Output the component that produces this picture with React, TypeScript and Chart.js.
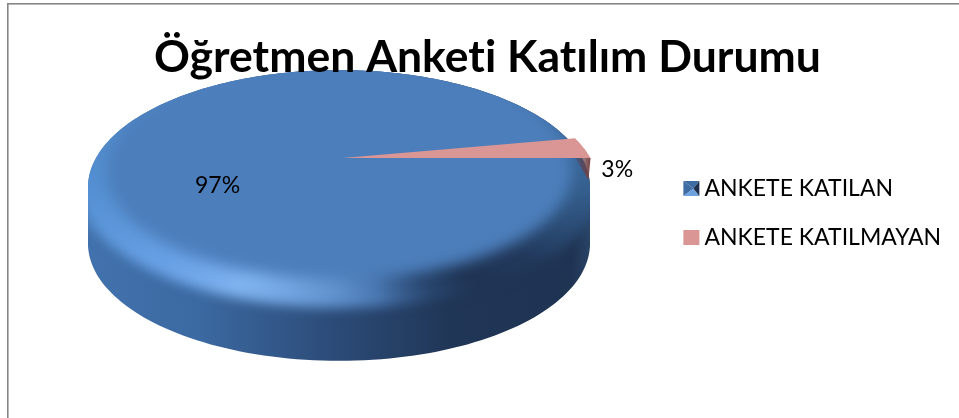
import React, { useEffect, useRef } from "react";
import { Chart, registerables } from "chart.js";

Chart.register(...registerables);

const categories = ["ANKETE KATILAN", "ANKETE KATILMAYAN"];
const shares = [97, 3];
const sliceColors = ["#4C7EBB", "#D99694"];
const chartTitle = "Öğretmen Anketi Katılım Durumu";

// Projection of the pie disc onto the page (tilted with perspective)
const VIEW = { cx: 339, cy: 158, a: 243, b: 110, p: 0.251, depth: 56, explode: 0.035, apexExplode: 0.015 };
// Label placement: radial fraction and extra offset
const LABEL_POS = [
  { frac: 0.5, dx: 1, dy: 22 },
  { frac: 1.13, dx: 12, dy: 23 },
];

type Pt = { x: number; y: number };

function proj(angle: number, frac = 1, shift = 0, du = 0, dy = 0): Pt {
  const u = Math.cos(angle) * frac + du;
  const v = Math.sin(angle) * frac;
  const d = 1 - VIEW.p * v;
  return { x: VIEW.cx + (VIEW.a * u) / d, y: VIEW.cy + (VIEW.b * v) / d + shift + dy };
}

function addRing(path: Path2D, frac: number, shift: number) {
  const n = 240;
  for (let i = 0; i <= n; i++) {
    const pt = proj((i / n) * Math.PI * 2, frac, shift);
    if (i === 0) path.moveTo(pt.x, pt.y);
    else path.lineTo(pt.x, pt.y);
  }
  path.closePath();
}

function drawPie(chart: any) {
  const ctx: CanvasRenderingContext2D = chart.ctx;
  (ctx as any).letterSpacing = "0.01px";
  const { width, height } = chart;
  ctx.save();
  ctx.fillStyle = "#fff";
  ctx.fillRect(0, 0, width, height);

  // frame
  ctx.fillStyle = "#868686";
  ctx.fillRect(7, 3, width - 7, 1.6);
  ctx.fillRect(7, 3, 1.6, height - 3);

  const meta = chart.getDatasetMeta(0);
  const pink = (meta.data as any[])[1];

  // silhouette
  const sil = new Path2D();
  for (let d = 0; d <= VIEW.depth; d += 2) addRing(sil, 1, d);

  const centerY = proj(Math.PI / 2).y / 2 + proj(-Math.PI / 2).y / 2;

  ctx.save();
  ctx.clip(sil);
  const wall = ctx.createLinearGradient(88, 0, 592, 0);
  wall.addColorStop(0, "#4272AD");
  wall.addColorStop(0.22, "#3B69A1");
  wall.addColorStop(0.5, "#2B4A76");
  wall.addColorStop(0.72, "#203656");
  wall.addColorStop(0.96, "#1F3453");
  wall.addColorStop(1, "#2A4568");
  ctx.fillStyle = wall;
  ctx.fillRect(0, 0, width, height);

  const rimGrad = (ctx as any).createConicGradient(0, VIEW.cx, centerY);
  const stops: [number, string][] = [
    [0, "#35608F"], [20, "#22395C"], [35, "#1F3454"], [50, "#2A4872"], [70, "#4A78B2"],
    [90, "#5F90CC"], [135, "#80B4F0"], [155, "#6AA2E6"], [180, "#5490D2"], [205, "#4F86C5"],
    [235, "#4C7EBB"], [330, "#4C7EBB"], [360, "#35608F"],
  ];
  stops.forEach(([deg, col]) => rimGrad.addColorStop(deg / 360, col));

  const rim = new Path2D();
  addRing(rim, 1.04, -5);
  ctx.filter = "blur(6px)";
  ctx.fillStyle = rimGrad;
  ctx.fill(rim);

  const flat = new Path2D();
  addRing(flat, 0.93, -12);
  ctx.filter = "blur(7px)";
  ctx.fillStyle = sliceColors[0];
  ctx.fill(flat);
  ctx.filter = "none";
  ctx.restore();

  // the small exploded slice, from the angles Chart.js computed
  const a0 = pink.startAngle;
  const a1 = pink.endAngle;
  const E = VIEW.explode;
  const apex = proj(0, 0, 0, VIEW.apexExplode);
  const outerEnd = proj(a1, 1, 0, E);

  const wallGrad = ctx.createLinearGradient(outerEnd.x - 14, 0, outerEnd.x, 0);
  wallGrad.addColorStop(0, "rgba(80,60,80,0.4)");
  wallGrad.addColorStop(1, "#7A4240");
  ctx.fillStyle = wallGrad;
  ctx.beginPath();
  ctx.moveTo(outerEnd.x - 15, outerEnd.y);
  ctx.lineTo(outerEnd.x, outerEnd.y);
  ctx.lineTo(outerEnd.x - 2, outerEnd.y + 22);
  ctx.closePath();
  ctx.fill();

  ctx.fillStyle = pink.options.backgroundColor;
  ctx.beginPath();
  ctx.moveTo(apex.x, apex.y);
  const steps = 16;
  for (let i = 0; i <= steps; i++) {
    const pt = proj(a0 + ((a1 - a0) * i) / steps, 1, 0, E);
    ctx.lineTo(pt.x, pt.y);
  }
  ctx.closePath();
  ctx.fill();
  ctx.restore();
}

const pie3dPlugin = {
  id: "pie3d",
  beforeDraw(chart: any) {
    drawPie(chart);
  },
  beforeDatasetsDraw() {
    return false;
  },
  afterDraw(chart: any) {
    const ctx: CanvasRenderingContext2D = chart.ctx;
    const meta = chart.getDatasetMeta(0);
    const total = shares.reduce((s, v) => s + v, 0);
    ctx.save();
    ctx.fillStyle = "#000";
    ctx.font = "23px Lato";
    ctx.textAlign = "center";
    ctx.textBaseline = "middle";
    meta.data.forEach((el: any, i: number) => {
      const mid = (el.startAngle + el.endAngle) / 2;
      const pos = LABEL_POS[i];
      const pt = proj(mid, pos.frac, 0);
      ctx.fillText(`${Math.round((shares[i] / total) * 100)}%`, pt.x + pos.dx, pt.y + pos.dy);
    });

    // legend keys sit closer to their text than the library's default gap
    const boxes = chart.legend?.legendHitBoxes ?? [];
    boxes.forEach((box: any, idx: number) => {
      const sz = 16;
      const h = 15;
      const l = box.left + 6.5;
      const t = box.top + (box.height - h) / 2;
      if (idx === 1) {
        ctx.fillStyle = sliceColors[1];
        ctx.fillRect(l, t, sz, h);
        return;
      }
      const cx = l + sz / 2 + 2;
      const cy = t + h / 2;
      const tri = (pts: number[][], col: string) => {
        ctx.fillStyle = col;
        ctx.beginPath();
        pts.forEach((p, i) => (i ? ctx.lineTo(p[0], p[1]) : ctx.moveTo(p[0], p[1])));
        ctx.closePath();
        ctx.fill();
      };
      tri([[l, t], [l + sz, t], [cx, cy]], "#3F6CA3");
      tri([[l, t], [cx, cy], [l, t + h]], "#3F6CA3");
      tri([[l, t + h], [cx, cy], [l + sz, t + h]], "#6EA2DE");
      tri([[l + sz, t], [l + sz, t + h], [cx, cy]], "#1D2F4B");
    });
    ctx.restore();
  },
};

export default function App() {
  const ref = useRef<HTMLCanvasElement>(null);
  useEffect(() => {
    document.body.style.margin = "0";
    const chart = new Chart(ref.current!, {
      type: "pie",
      data: {
        labels: categories,
        datasets: [{ data: shares, backgroundColor: sliceColors, borderWidth: 0 }],
      },
      options: {
        responsive: false,
        animation: false,
        rotation: 90,
        layout: { padding: { left: 24, right: 8, top: 8, bottom: 0 } },
        plugins: {
          tooltip: { enabled: false },
          title: {
            display: true,
            text: chartTitle,
            color: "#000",
            font: { family: "Lato", size: 44.5, weight: "bold" },
            padding: { top: 23, bottom: 16 },
          },
          legend: {
            position: "right",
            labels: {
              color: "#000",
              font: { family: "Lato", size: 23 },
              boxWidth: 16,
              boxHeight: 15,
              padding: 26,
              generateLabels: () =>
                categories.map((text, index) => ({
                  text,
                  index,
                  fillStyle: "rgba(0,0,0,0)",
                  strokeStyle: "rgba(0,0,0,0)",
                  lineWidth: 0,
                  fontColor: "#000",
                })),
            },
          },
        },
      },
      plugins: [pie3dPlugin],
    } as any);
    return () => chart.destroy();
  }, []);
  return (
    <div style={{ width: 959, height: 418 }}>
      <canvas ref={ref} width={959} height={418} style={{ display: "block", filter: "blur(0.4px)" }} />
    </div>
  );
}
